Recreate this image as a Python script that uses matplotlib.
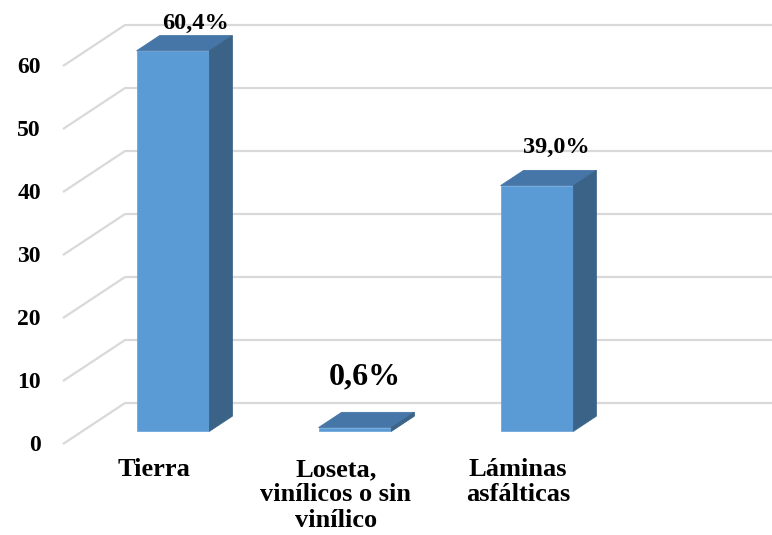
import matplotlib.pyplot as plt
from matplotlib.patches import Polygon

# Tipo de material del piso (%)
categorias = ['Tierra', 'Loseta,\nvinílicos o sin\nvinílico', 'Láminas\nasfálticas']
valores = [60.4, 0.6, 39.0]
etiquetas = ['60,4%', '0,6%', '39,0%']
ticks = [0, 10, 20, 30, 40, 50, 60]

# desplazamiento de las etiquetas de valor sobre cada barra (x, y)
desp_etiq = [(0.0, 2.0), (-0.07, 5.6), (-0.02, 3.7)]
tam_etiq = [17.5, 23, 17.5]

# proyeccion oblicua: profundidad 1 = pared del fondo
ddx, ddy = 0.341, 6.51
d_front, d_back = 0.31, 0.68
ancho = 0.40
x_izq = -0.499

c_frente = '#5b9bd5'
c_techo = '#4676a8'
c_lado = '#3a6387'
c_grid = '#d9d9d9'

fuente = 'Liberation Serif'

fig = plt.figure(figsize=(7.72, 5.35), dpi=100)
ax = fig.add_axes([0, 0, 1, 1])
ax.set_xlim(-0.845, 3.397)
ax.set_ylim(-14.44, 70.48)
ax.axis('off')

# lineas de la cuadricula (suelo diagonal + pared del fondo)
for t in ticks:
    ax.plot([x_izq, x_izq + ddx, 3.397], [t, t + ddy, t + ddy],
            color=c_grid, lw=1.6, zorder=1, solid_capstyle='butt')
    ax.text(-0.62, t - 0.3, str(t), ha='right', va='center', fontsize=17,
            fontweight='bold', family=fuente)

# barras 3D
for i, v in enumerate(valores):
    x0 = i + d_front * ddx - ancho / 2
    x1 = x0 + ancho
    base = d_front * ddy
    top = v + base
    bx = (d_back - d_front) * ddx
    by = (d_back - d_front) * ddy
    frente = Polygon([(x0, base), (x1, base), (x1, top), (x0, top)],
                     closed=True, fc=c_frente, ec='#6fa8dc', lw=0.6, zorder=3)
    techo = Polygon([(x0, top), (x1, top), (x1 + bx, top + by), (x0 + bx, top + by)],
                    closed=True, fc=c_techo, ec=c_techo, lw=0.6, zorder=3)
    lado = Polygon([(x1, base), (x1, top), (x1 + bx, top + by), (x1 + bx, base + by)],
                   closed=True, fc=c_lado, ec=c_lado, lw=0.6, zorder=3)
    for p in (frente, techo, lado):
        ax.add_patch(p)

    # etiqueta de valor
    cx = i + d_back * ddx + desp_etiq[i][0]
    cy = v + d_back * ddy + desp_etiq[i][1]
    ax.text(cx, cy, etiquetas[i], ha='center', va='center',
            fontsize=tam_etiq[i], fontweight='bold', family=fuente, zorder=4)

    # nombre de la categoria
    ax.text(i, -2.2, categorias[i], ha='center', va='top', fontsize=19,
            fontweight='bold', family=fuente, linespacing=1.13)

fig.savefig('out.png', dpi=100)
